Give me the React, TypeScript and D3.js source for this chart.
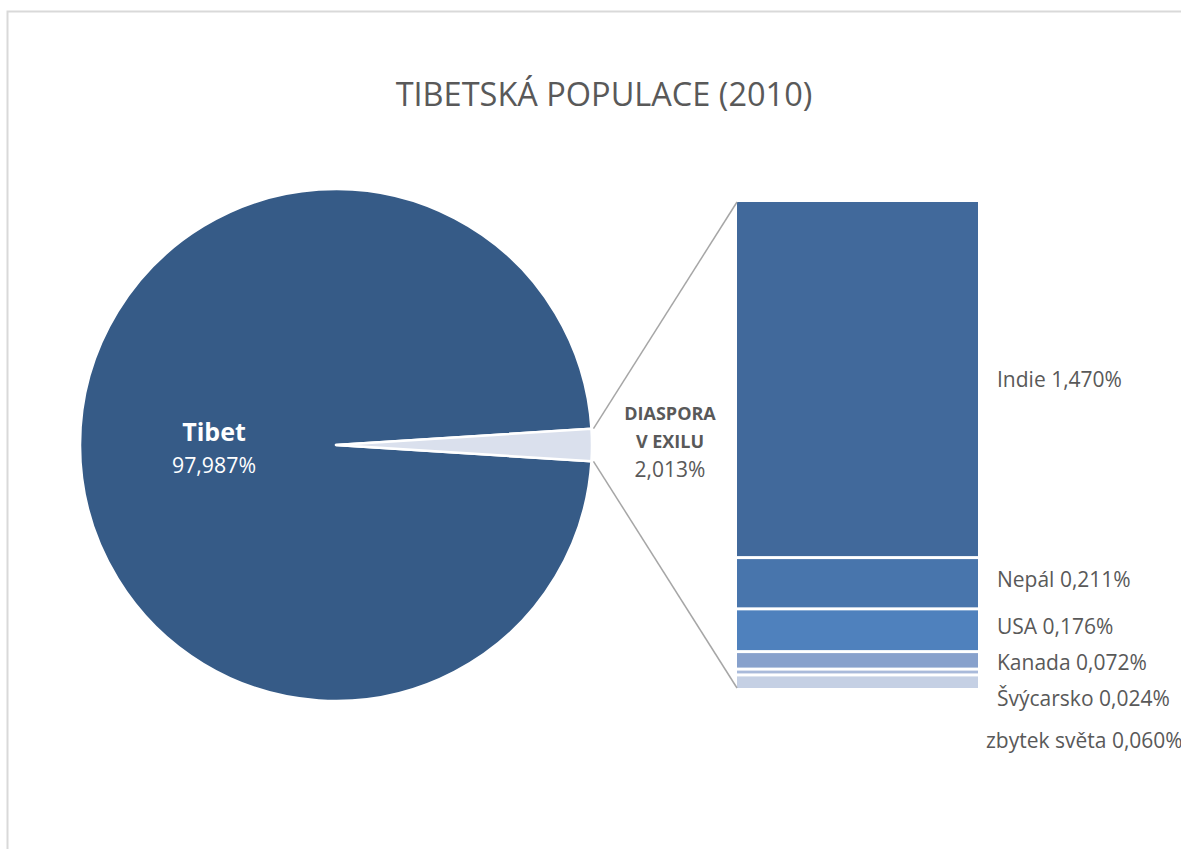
import React, { useEffect, useRef } from 'react'
import * as d3 from 'd3'

// pie: Tibet vs. exile diaspora (%)
const pieLabels = ['Tibet', 'DIASPORA V EXILU']
const pieValues = [97.987, 2.013]
const pieColors = ['#365B87', '#DAE0ED']

// bar of pie: breakdown of the diaspora (%)
const barLabels = ['Indie', 'Nepál', 'USA', 'Kanada', 'Švýcarsko', 'zbytek světa']
const barValues = [1.47, 0.211, 0.176, 0.072, 0.024, 0.06]
const barColors = ['#41699B', '#4875AC', '#4F81BD', '#87A1CC', '#A9BADA', '#C5D0E4']

const title = 'TIBETSKÁ POPULACE (2010)'
const fmt = (v: number) => v.toFixed(3).replace('.', ',') + '%'

const W = 1181
const H = 849
const FONT = '"Open Sans", "Noto Sans", sans-serif'
const TXT = '#595959'

export default function App() {
  const ref = useRef<SVGSVGElement>(null)

  useEffect(() => {
    const svg = d3.select(ref.current)
    svg.selectAll('*').remove()

    // chart frame (runs off the right and bottom edges)
    svg.append('rect')
      .attr('x', 7.5).attr('y', 11.5)
      .attr('width', W + 50).attr('height', H + 50)
      .attr('fill', '#fff').attr('stroke', '#D9D9D9').attr('stroke-width', 2)

    svg.append('text')
      .attr('x', 604).attr('y', 106)
      .attr('text-anchor', 'middle')
      .attr('font-family', FONT).attr('font-size', 32.5)
      .attr('fill', TXT)
      .text(title)

    // ---- pie
    const cx = 336, cy = 445, r = 256
    const total = d3.sum(pieValues)
    const half = (pieValues[1] / total) * Math.PI
    const pie = d3.pie<number>().sort(null)
      .startAngle(Math.PI / 2 + half)
      .endAngle(Math.PI / 2 + half + 2 * Math.PI)
    const arcs = pie(pieValues)
    const arc = d3.arc<d3.PieArcDatum<number>>().innerRadius(0).outerRadius(r)

    const g = svg.append('g').attr('transform', `translate(${cx},${cy})`)
    g.selectAll('path')
      .data(arcs)
      .enter()
      .append('path')
      .attr('d', arc)
      .attr('fill', (d, i) => pieColors[i])
      .attr('stroke', '#fff')
      .attr('stroke-width', 2.5)
      .attr('stroke-linejoin', 'round')

    // ---- bar of pie
    const barX = 737, barW = 241
    const barTotal = d3.sum(barValues)
    const y = d3.scaleLinear().domain([0, barTotal]).range([200.5, 689.5])
    const ends = Array.from(d3.cumsum(barValues))
    const segs = barValues.map((v, i) => ({ v, y0: ends[i] - v, y1: ends[i] }))

    svg.append('g')
      .selectAll('rect')
      .data(segs)
      .enter()
      .append('rect')
      .attr('x', barX)
      .attr('width', barW)
      .attr('y', d => y(d.y0) + 1.5)
      .attr('height', d => Math.max(0.5, y(d.y1) - y(d.y0) - 3))
      .attr('fill', (d, i) => barColors[i])

    // connector lines from the slice edges to the bar corners
    const dia = arcs[1]
    const pt = (a: number) => [cx + (r + 2) * Math.sin(a), cy - (r + 2) * Math.cos(a)]
    const [ux, uy] = pt(dia.startAngle)
    const [lx, ly] = pt(dia.endAngle)
    svg.append('line')
      .attr('x1', ux).attr('y1', uy).attr('x2', barX).attr('y2', y(0) + 1.5)
      .attr('stroke', '#A6A6A6').attr('stroke-width', 1.5)
    svg.append('line')
      .attr('x1', lx).attr('y1', ly).attr('x2', barX).attr('y2', y(barTotal) - 1.5)
      .attr('stroke', '#A6A6A6').attr('stroke-width', 1.5)

    // bar labels, pushed down when they would overlap
    let prev = -Infinity
    const labelY = segs.map((d, i) => {
      const gap = i === segs.length - 1 ? 42 : 36
      let ly2 = (y(d.y0) + y(d.y1)) / 2 - 4
      if (i === 0) ly2 += 4
      if (ly2 < prev + gap && prev > 0) ly2 = prev + gap
      prev = ly2
      return ly2
    })
    svg.append('g')
      .selectAll('text')
      .data(segs)
      .enter()
      .append('text')
      .attr('x', (d, i) => i === segs.length - 1 ? 986 : 997)
      .attr('y', (d, i) => labelY[i])
      .attr('dy', '0.36em')
      .attr('font-family', FONT).attr('font-size', 21)
      .attr('fill', TXT)
      .text((d, i) => `${barLabels[i]} ${fmt(d.v)}`)

    // pie labels
    const tibet = svg.append('text')
      .attr('x', 214).attr('y', 441)
      .attr('text-anchor', 'middle')
      .attr('font-family', FONT).attr('fill', '#fff')
    tibet.append('tspan').attr('font-weight', 'bold').attr('font-size', 25).text(pieLabels[0])
    tibet.append('tspan').attr('x', 214).attr('dy', 32).attr('font-size', 21.3).text(fmt(pieValues[0]))

    const dlab = svg.append('text')
      .attr('x', 670).attr('y', 420)
      .attr('text-anchor', 'middle')
      .attr('font-family', FONT).attr('fill', TXT)
    const words = pieLabels[1].split(' ')
    dlab.append('tspan').attr('font-weight', 'bold').attr('font-size', 18).text(words[0])
    dlab.append('tspan').attr('x', 670).attr('dy', 28).attr('font-weight', 'bold').attr('font-size', 18)
      .text(words.slice(1).join(' '))
    dlab.append('tspan').attr('x', 670).attr('dy', 29).attr('font-size', 21).text(fmt(pieValues[1]))
  }, [])

  return (
    <svg ref={ref} width={W} height={H} style={{ position: 'absolute', left: 0, top: 0 }} />
  )
}
